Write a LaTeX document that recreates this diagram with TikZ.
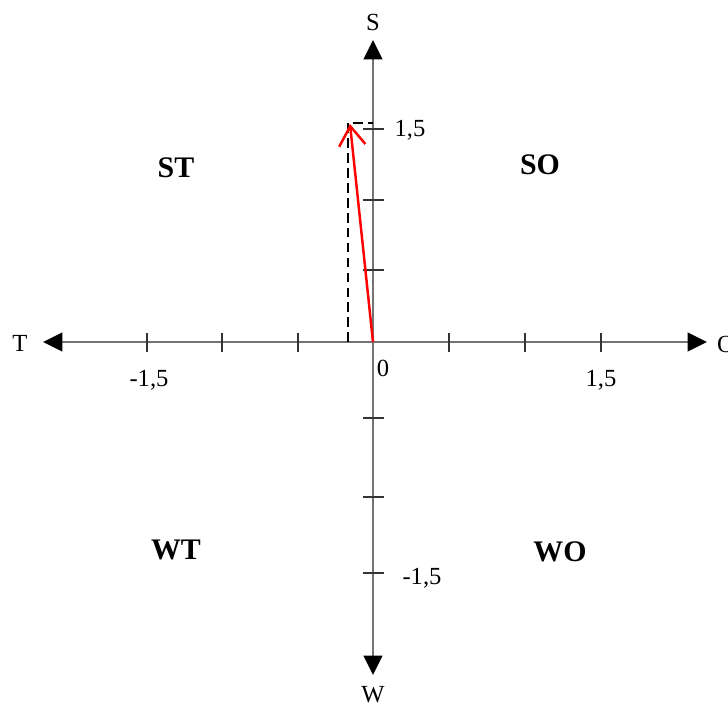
\documentclass[tikz,border=0pt]{standalone}
\usepackage{fontspec}
\setmainfont{Liberation Serif}
\usetikzlibrary{arrows.meta}

\begin{document}
\begin{tikzpicture}[x=0.02cm, y=-0.02cm,
	axis/.style={draw=black!55, line width=1.5pt, {Triangle[length=11pt, width=10.5pt, color=black]}-{Triangle[length=11pt, width=10.5pt, color=black]}},
	tickmark/.style={draw=black!80, line width=0.7pt},
	axlabel/.style={font=\fontsize{14}{16}\selectfont, inner sep=1pt},
	ticklabel/.style={font=\fontsize{14}{16}\selectfont, inner sep=1pt},
	quadrant/.style={font=\fontsize{17}{19}\selectfont\bfseries, inner sep=1pt},
	vector/.style={draw=red, line width=1.4pt, -{Straight Barb[length=11pt, width=15pt, line width=1.4pt]}},
	guide/.style={draw=black, line width=1.5pt, dash pattern=on 5.5pt off 3pt}]
	\useasboundingbox (0,0) rectangle (728,709);
	% Paths, nodes and wires:
	\coordinate (origin) at (373,342);
	\coordinate (xleft) at (43,342);
	\coordinate (xright) at (707,342);
	\coordinate (ytop) at (373,40);
	\coordinate (ybottom) at (373,675);
	\coordinate (vtip) at (350,124);
	\coordinate (vfoot) at (348,342);
	\coordinate (vcorner) at (348,123);
	\coordinate (vaxis) at (373,123);
	\draw[axis] (xleft) -- (xright);
	\draw[axis] (ybottom) -- (ytop);
	\foreach \x in {147,222,298,449,525,601}
		\draw[tickmark] (\x,333) -- (\x,352);
	\foreach \y in {129,200,270,418,497,573}
		\draw[tickmark] (363,\y) -- (384,\y);
	\draw[guide] (vfoot) -- (vcorner) -- (vaxis);
	\draw[vector] (origin) -- (vtip);
	\node[axlabel] (labT) at (20,343){T};
	\node[axlabel] (labO) at (726,344){O};
	\node[axlabel] (labS) at (373,22){S};
	\node[axlabel] (labW) at (373,695){W};
	\node[ticklabel] (lzero) at (383,368){0};
	\node[ticklabel] (lxneg) at (149,380){-1,5};
	\node[ticklabel] (lxpos) at (601,380){1,5};
	\node[ticklabel] (lypos) at (410,130){1,5};
	\node[ticklabel] (lyneg) at (422,578){-1,5};
	\node[quadrant] (qST) at (176,168){ST};
	\node[quadrant] (qSO) at (540,165){SO};
	\node[quadrant] (qWT) at (176,550){WT};
	\node[quadrant] (qWO) at (560,552){WO};
\end{tikzpicture}
\end{document}
